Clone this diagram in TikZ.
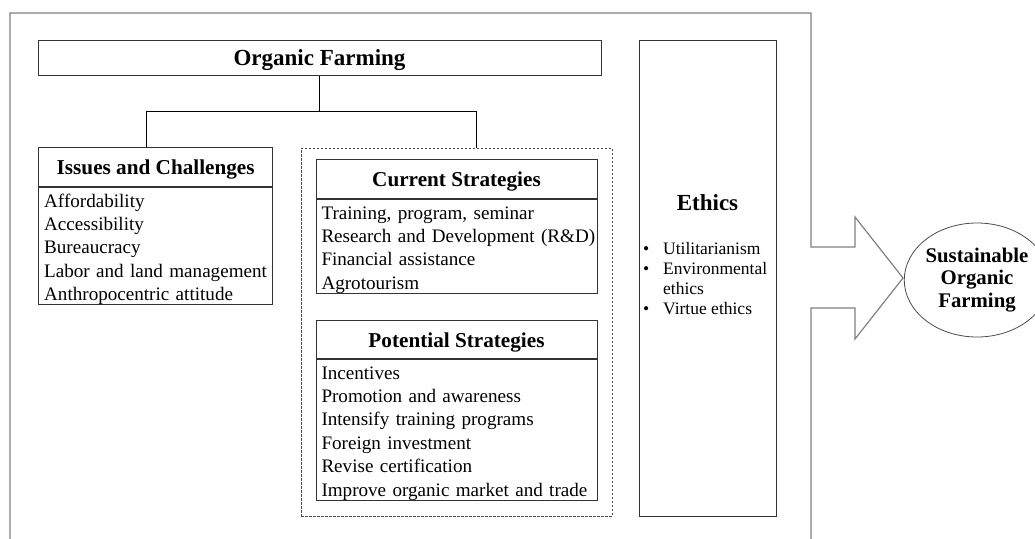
\documentclass[tikz,border=0pt]{standalone}
\usepackage{fontspec}
\setmainfont{Liberation Serif}
\usetikzlibrary{shapes.geometric}
\begin{document}
\begin{tikzpicture}[x=1pt,y=-1pt,
  box/.style={draw=black!80,line width=1pt,inner sep=0pt},
  head/.style={box,text height=18pt,text depth=2pt,font=\fontsize{21.2}{25}\selectfont\bfseries},
  itemlist/.style={box,align=left,inner xsep=5.5pt,inner ysep=0pt,font=\fontsize{19.1}{23.4}\selectfont,
    execute at begin node={\rule{0pt}{20pt}},execute at end node={\rule[-3.2pt]{0pt}{3.2pt}}}]
  \useasboundingbox (0,0) rectangle (1035,538);
  % outer frame with the arrow
  \draw[black!50,line width=1.2pt] (10,545) -- (10,13) -- (811,13) -- (811,247) -- (855,247) -- (855,217)
    -- (903,278) -- (855,339) -- (855,308) -- (811,308) -- (811,545);
  \node[box,minimum width=563,minimum height=35,text height=18pt,text depth=2pt,
    font=\fontsize{23}{27}\selectfont\bfseries] (org) at (319.5,57.5) {Organic Farming};
  % issues
  \node[head,minimum width=234,minimum height=39] (iss) at (155.7,166.5) {Issues and Challenges};
  \node[itemlist,text width=223,minimum height=117,anchor=north] (isslist) at (iss.south)
    {Affordability\\Accessibility\\Bureaucracy\\\mbox{Labor and land management}\\Anthropocentric attitude};
  % strategies
  \node[draw=black!70,dash pattern=on 2.5pt off 1.5pt,line width=1pt,minimum width=311,minimum height=368] (strat) at (456.5,332) {};
  \node[head,minimum width=281,minimum height=39] (cur) at (456.5,178.5) {Current Strategies};
  \node[itemlist,text width=270,minimum height=94,anchor=north] (curlist) at (cur.south)
    {Training, program, seminar\\\mbox{Research and Development (R\&D)}\\Financial assistance\\Agrotourism};
  \node[head,minimum width=281,minimum height=38] (pot) at (456.5,339) {Potential Strategies};
  \node[itemlist,text width=270,minimum height=140,anchor=north] (potlist) at (pot.south)
    {Incentives\\Promotion and awareness\\Intensify training programs\\Foreign investment\\Revise certification\\\mbox{Improve organic market and trade}};
  % ethics
  \node[box,minimum width=137,minimum height=476] (eth) at (707.5,278) {};
  \node[font=\fontsize{23}{27}\selectfont\bfseries,anchor=base] (ethtitle) at (707.5,210.5) {Ethics};
  \node[align=left,inner sep=0pt,anchor=north west,font=\fontsize{17.5}{20}\selectfont] (ethlist) at (643,242.5)
    {\makebox[20pt][l]{\textbullet}Utilitarianism\\\makebox[20pt][l]{\textbullet}Environmental\\\hspace*{20pt}ethics\\\makebox[20pt][l]{\textbullet}Virtue ethics};
  % goal
  \node[ellipse,draw=black!70,line width=0.8pt,minimum width=126,minimum height=114,inner sep=0pt,align=center,
    font=\fontsize{20.8}{22.5}\selectfont\bfseries] (sof) at (977,280) {Sustainable\\Organic\\Farming};
  % connectors
  \coordinate (jl) at (146,111);
  \coordinate (jr) at (476,111);
  \draw[line width=1pt] (org.south) -- (org.south |- jl);
  \draw[line width=1pt] (jl |- iss.north) -- (jl) -- (jr) -- (jr |- strat.north);
\end{tikzpicture}
\end{document}
